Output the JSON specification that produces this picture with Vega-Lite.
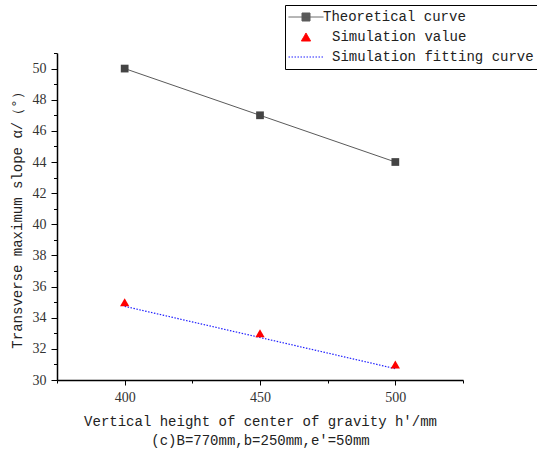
{
  "$schema": "https://vega.github.io/schema/vega-lite/v6.json",
  "width": 406,
  "height": 327,
  "autosize": "none",
  "padding": {"left": 57, "top": 53, "right": 74, "bottom": 74},
  "background": "white",
  "config": {
    "view": {"stroke": null},
    "axis": {
      "domainColor": "#000000",
      "domainWidth": 1.5,
      "tickColor": "#000000",
      "tickWidth": 1,
      "grid": false,
      "labelFont": "Liberation Serif",
      "labelFontSize": 14,
      "labelColor": "#333333",
      "titleFont": "Liberation Mono",
      "titleFontSize": 14,
      "titleFontWeight": "normal",
      "titleColor": "#222222"
    }
  },
  "data": {
    "values": [
      {"h": 400, "v": 50, "series": "Theoretical curve"},
      {"h": 450, "v": 47, "series": "Theoretical curve"},
      {"h": 500, "v": 44, "series": "Theoretical curve"},
      {"h": 400, "v": 35, "series": "Simulation value"},
      {"h": 450, "v": 33, "series": "Simulation value"},
      {"h": 500, "v": 31, "series": "Simulation value"},
      {"h": 400, "v": 34.73, "series": "Simulation fitting curve"},
      {"h": 450, "v": 32.73, "series": "Simulation fitting curve"},
      {"h": 500, "v": 30.73, "series": "Simulation fitting curve"}
    ]
  },
  "resolve": {"axis": {"x": "independent", "y": "independent"}},
  "layer": [
    {
      "transform": [{"filter": "datum.series === 'Theoretical curve'"}],
      "mark": {"type": "line", "strokeWidth": 1},
      "encoding": {
        "x": {
          "field": "h", "type": "quantitative",
          "scale": {"domain": [375, 525], "nice": false, "zero": false},
          "axis": {
            "orient": "bottom",
            "values": [400, 450, 500],
            "tickSize": 5,
            "labelPadding": 5,
            "titlePadding": 10,
            "titleLineHeight": 19,
            "title": ["Vertical height of center of gravity h′/mm", "(c)B=770mm,b=250mm,e′=50mm"]
          }
        },
        "y": {
          "field": "v", "type": "quantitative",
          "scale": {"domain": [30, 51], "nice": false, "zero": false},
          "axis": {
            "orient": "left",
            "values": [30, 32, 34, 36, 38, 40, 42, 44, 46, 48, 50],
            "tickSize": 6,
            "labelPadding": 5,
            "titlePadding": 8,
            "title": "Transverse maximum slope α/（°）"
          }
        },
        "color": {
          "field": "series", "type": "nominal",
          "scale": {
            "domain": ["Theoretical curve", "Simulation value", "Simulation fitting curve"],
            "range": ["#5a5a5a", "#ff0000", "#2020ff"]
          },
          "legend": {
            "orient": "none",
            "legendX": 228,
            "legendY": -48,
            "title": null,
            "strokeColor": "#000000",
            "fillColor": "#ffffff",
            "padding": 5,
            "symbolSize": 100,
            "symbolOffset": 9,
            "labelOffset": 10,
            "rowPadding": 6,
            "labelLimit": 400,
            "labelFont": "Liberation Mono",
            "labelFontSize": 14,
            "labelColor": "#222222",
            "encoding": {
              "labels": {
                "dx": {"value": {"expr": "datum.value === 'Theoretical curve' ? 0 : 9"}}
              },
              "symbols": {
                "shape": {"value": {"expr": "datum.value === 'Theoretical curve' ? 'M-3.5,0H3.5M-0.8,-0.8H0.8V0.8H-0.8Z' : datum.value === 'Simulation value' ? 'triangle-up' : 'M-3.5,0H3.5'"}},
                "fill": {"value": {"expr": "datum.value === 'Theoretical curve' ? '#444444' : datum.value === 'Simulation value' ? '#ff0000' : 'transparent'"}},
                "stroke": {"value": {"expr": "datum.value === 'Theoretical curve' ? '#5a5a5a' : datum.value === 'Simulation value' ? 'transparent' : '#2020ff'"}},
                "strokeDash": {"value": {"expr": "datum.value === 'Simulation fitting curve' ? [1.5, 1.5] : [1, 0]"}},
                "strokeWidth": {"value": 1},
                "opacity": {"value": 1},
                "size": {"value": {"expr": "datum.value === 'Simulation value' ? 86 : 100"}}
              }
            }
          }
        }
      }
    },
    {
      "transform": [{"filter": "datum.series === 'Theoretical curve'"}],
      "mark": {"type": "point", "shape": "square", "filled": true, "size": 60, "color": "#444444", "opacity": 1},
      "encoding": {
        "x": {
          "field": "h", "type": "quantitative",
          "axis": {"orient": "bottom", "values": [375, 425, 475, 525], "tickSize": 3, "labels": false, "domain": false, "title": null}
        },
        "y": {
          "field": "v", "type": "quantitative",
          "axis": {"orient": "left", "values": [31, 33, 35, 37, 39, 41, 43, 45, 47, 49, 51], "tickSize": 3.5, "labels": false, "domain": false, "title": null}
        }
      }
    },
    {
      "transform": [{"filter": "datum.series === 'Simulation fitting curve'"}],
      "mark": {"type": "line", "strokeWidth": 1.2, "strokeDash": [1.5, 1.5]},
      "encoding": {
        "x": {"field": "h", "type": "quantitative", "axis": null},
        "y": {"field": "v", "type": "quantitative", "axis": null},
        "color": {"field": "series", "type": "nominal"}
      }
    },
    {
      "transform": [{"filter": "datum.series === 'Simulation value'"}],
      "mark": {"type": "point", "shape": "triangle-up", "filled": true, "size": 86, "opacity": 1},
      "encoding": {
        "x": {"field": "h", "type": "quantitative", "axis": null},
        "y": {"field": "v", "type": "quantitative", "axis": null},
        "color": {"field": "series", "type": "nominal"}
      }
    }
  ]
}
